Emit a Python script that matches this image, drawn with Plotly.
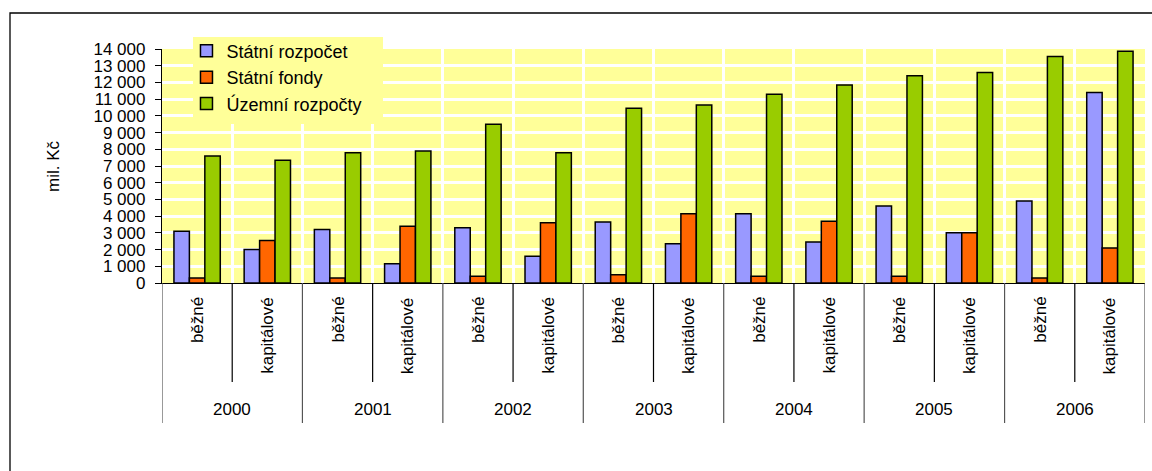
import plotly.graph_objects as go

# ---- data ----
years = ["2000", "2001", "2002", "2003", "2004", "2005", "2006"]
types = ["běžné", "kapitálové"]
statni_rozpocet = [3100, 2000, 3200, 1150, 3300, 1600, 3650, 2350, 4150, 2450, 4600, 3000, 4900, 11400]
statni_fondy = [300, 2550, 300, 3400, 400, 3600, 500, 4150, 400, 3700, 400, 3000, 300, 2100]
uzemni_rozpocty = [7600, 7350, 7800, 7900, 9500, 7800, 10450, 10650, 11300, 11850, 12400, 12600, 13550, 13870]
series_names = ["Státní rozpočet", "Státní fondy", "Územní rozpočty"]
series_colors = ["#9999FF", "#FF6600", "#99CC00"]
y_tick_values = list(range(0, 15000, 1000))
y_tick_labels = ["0", "1 000", "2 000", "3 000", "4 000", "5 000", "6 000", "7 000",
                 "8 000", "9 000", "10 000", "11 000", "12 000", "13 000", "14 000"]
y_title = "mil. Kč"

categories = [f"{y} {t}" for y in years for t in types]
FONT = "Arial, Liberation Sans, sans-serif"

fig = go.Figure()
for name, vals, col in zip(series_names, [statni_rozpocet, statni_fondy, uzemni_rozpocty], series_colors):
    fig.add_trace(go.Bar(x=categories, y=vals, name=name,
                         marker=dict(color=col, line=dict(color="black", width=1.5))))

shapes = []
annotations = []
n = len(categories)
# category separators
for i in range(n + 1):
    is_year = (i % 2 == 0)
    shapes.append(dict(type="line", xref="x", yref="paper", x0=i - 0.5, x1=i - 0.5,
                       ysizemode="pixel", yanchor=0, y0=0, y1=(-140 if is_year else -99),
                       line=dict(color="#555555" if is_year else "black", width=1.2)))
# inner labels
for i, c in enumerate(categories):
    annotations.append(dict(x=i, y=0, xref="x", yref="paper", text=types[i % 2],
                            textangle=-90, showarrow=False, xanchor="center", yanchor="top",
                            yshift=-12, font=dict(family=FONT, size=17, color="black")))
# year labels
for j, yr in enumerate(years):
    annotations.append(dict(x=2 * j + 0.5, y=0, xref="x", yref="paper", text=yr,
                            showarrow=False, xanchor="center", yanchor="middle",
                            yshift=-126, font=dict(family=FONT, size=17, color="black")))
# y title
annotations.append(dict(x=0, y=0.5, xref="paper", yref="paper", text=y_title, textangle=-90,
                        showarrow=False, xanchor="center", yanchor="middle", xshift=-109,
                        font=dict(family=FONT, size=17, color="black")))
# legend background box (covers gridlines)
shapes.append(dict(type="rect", xref="paper", yref="paper", xsizemode="pixel", ysizemode="pixel",
                   xanchor=0, yanchor=1, x0=31, x1=221, y0=12, y1=-75,
                   line=dict(width=0), fillcolor="#FFFF99", layer="above"))
# outer frame
shapes.append(dict(type="rect", xref="paper", yref="paper", xsizemode="pixel", ysizemode="pixel",
                   xanchor=0, yanchor=1, x0=-152, x1=1000, y0=36, y1=-500,
                   line=dict(color="black", width=1.3), fillcolor="rgba(0,0,0,0)", layer="above"))

fig.update_layout(
    width=1152, height=471,
    margin=dict(l=162, r=7, t=49, b=188, pad=0),
    paper_bgcolor="white", plot_bgcolor="#FFFF99",
    barmode="group", bargap=0.34, bargroupgap=0,
    font=dict(family=FONT, size=17, color="black"),
    showlegend=True,
    legend=dict(x=0.0249, y=1.0704, xanchor="left", yanchor="top", bgcolor="rgba(0,0,0,0)",
                borderwidth=0, font=dict(family=FONT, size=18, color="black"),
                itemwidth=30, tracegroupgap=0),
    xaxis=dict(type="category", showticklabels=False, ticks="", tickson="boundaries",
               showgrid=True, gridcolor="white", gridwidth=3,
               showline=True, linecolor="black", linewidth=1.3, range=[-0.5, n - 0.5]),
    yaxis=dict(range=[0, 14000], tickvals=y_tick_values, ticktext=y_tick_labels,
               ticks="outside", ticklen=6, tickcolor="black", tickwidth=1.2,
               showgrid=True, gridcolor="white", gridwidth=3, zeroline=False,
               showline=True, linecolor="black", linewidth=1.3,
               tickfont=dict(family=FONT, size=17, color="black"), ticklabelstandoff=6),
    shapes=shapes, annotations=annotations,
)

fig.write_html("out.html", config={"displayModeBar": False},
               post_script="document.body.style.margin='0';")
